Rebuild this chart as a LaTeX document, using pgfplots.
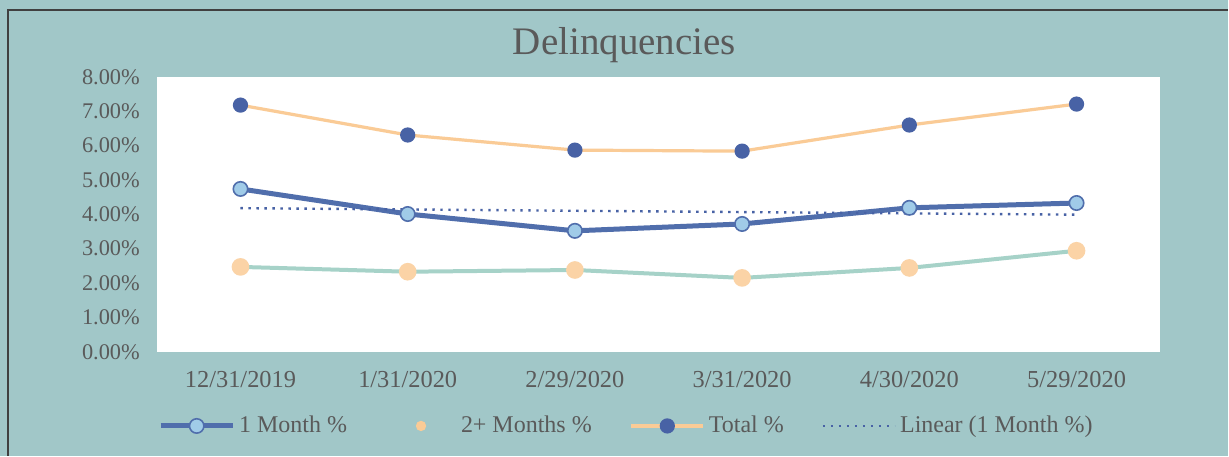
\documentclass[border=0pt]{standalone}
\usepackage{pgfplots}
\pgfplotsset{compat=1.18}
\usepackage{fontspec}
\setmainfont{Liberation Serif}
\definecolor{bgteal}{RGB}{161,199,200}
\definecolor{txtgray}{RGB}{90,90,90}
\definecolor{oneblue}{RGB}{80,110,172}
\definecolor{lightblue}{RGB}{160,203,232}
\definecolor{totorange}{RGB}{250,203,150}
\definecolor{twoteal}{RGB}{166,210,200}
\definecolor{dotblue}{RGB}{72,98,165}
\begin{document}
\begin{tikzpicture}
\fill[bgteal] (0,0) rectangle (614.5pt,228pt);
\draw[black!75, line width=0.9pt] (4pt,0) -- (4pt,223pt) -- (614.5pt,223pt);
\useasboundingbox (0,0) rectangle (614.5pt,228pt);
\begin{axis}[
  at={(78.5pt,52pt)}, anchor=south west,
  scale only axis, width=502pt, height=137.5pt,
  axis background/.style={fill=white},
  axis line style={draw=none},
  major tick length=0pt,
  xmin=-0.5, xmax=5.5, ymin=0, ymax=8,
  xtick={0,1,2,3,4,5},
  xticklabels={12/31/2019,1/31/2020,2/29/2020,3/31/2020,4/30/2020,5/29/2020},
  ytick={0,1,2,3,4,5,6,7,8},
  /pgf/number format/assume math mode=true,
  yticklabel={\pgfmathprintnumber[fixed,fixed zerofill,precision=2]{\tick}\%},
  tick label style={text=txtgray},
  yticklabel style={xshift=-5pt, font=\fontsize{11.2}{13}\selectfont},
  xticklabel style={yshift=-6pt, font=\fontsize{12.2}{14}\selectfont},
  title={Delinquencies},
  title style={at={(axis description cs:0.466,1)}, anchor=base, yshift=5pt, font=\fontsize{19.5}{23}\selectfont, text=txtgray},
  legend columns=4,
  legend style={at={(axis description cs:0.469,-0.27)}, anchor=center, draw=none, fill=none,
    font=\fontsize{12}{14}\selectfont, text=txtgray, /tikz/every even column/.append style={column sep=17pt}},
  legend image code/.code={\draw[mark repeat=2,mark phase=2,#1] plot coordinates {(0pt,0pt) (18pt,0pt) (36pt,0pt)};},
]
\addplot[oneblue, line width=2.5pt, mark=*, mark size=3.6pt, mark options={fill=lightblue, draw=oneblue, line width=0.8pt}]
  coordinates {(0,4.74) (1,4.01) (2,3.52) (3,3.72) (4,4.19) (5,4.33)};
\addlegendentry{1 Month \%}
\addplot[twoteal, line width=2pt, mark=*, mark size=3.4pt, mark options={fill=totorange!85, draw=totorange!85}, legend image code/.code={\path[draw=none] (0pt,0pt) -- (36pt,0pt); \path[draw=none, fill=totorange] (18pt,0pt) circle (2.6pt);}]
  coordinates {(0,2.47) (1,2.33) (2,2.38) (3,2.15) (4,2.44) (5,2.94)};
\addlegendentry{2+ Months \%}
\addplot[totorange, line width=1.6pt, mark=*, mark size=3pt, mark options={fill=dotblue, draw=dotblue}]
  coordinates {(0,7.18) (1,6.31) (2,5.87) (3,5.84) (4,6.60) (5,7.21)};
\addlegendentry{Total \%}
\addplot[dotblue, line width=1.2pt, dash pattern=on 1.2pt off 2.8pt]
  coordinates {(0,4.18) (5,3.99)};
\addlegendentry{Linear (1 Month \%)}
\end{axis}
\end{tikzpicture}
\end{document}
